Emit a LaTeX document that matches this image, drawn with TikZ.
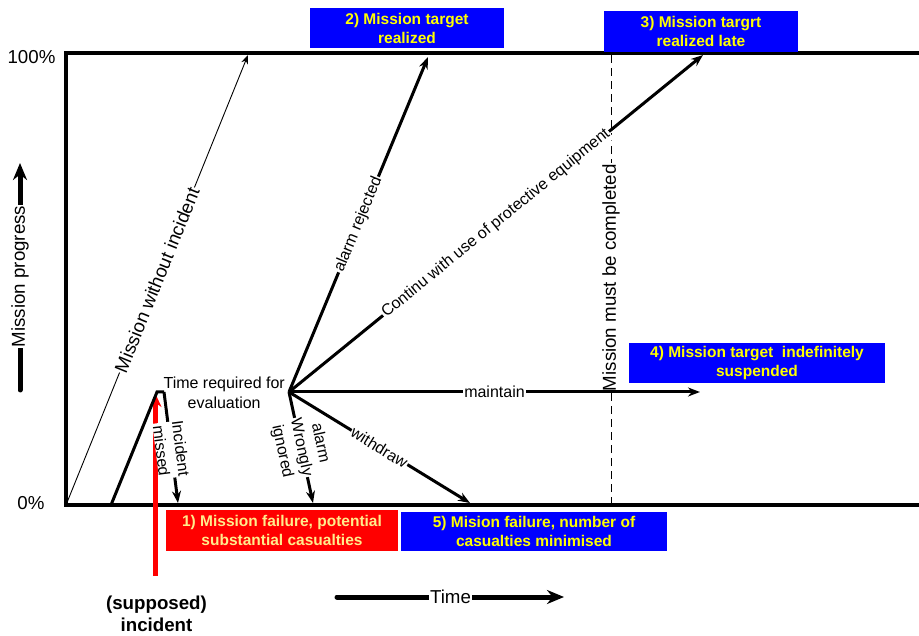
\documentclass[tikz,border=0pt]{standalone}
\usepackage{fontspec}
\setmainfont{Liberation Sans}
\usepackage{tikz}
\usetikzlibrary{arrows.meta, positioning, calc}

\definecolor{boxblue}{RGB}{0,0,255}
\definecolor{boxred}{RGB}{255,0,0}
\definecolor{txtyellow}{RGB}{255,255,0}
\definecolor{paleyellow}{RGB}{255,236,140}

\begin{document}
\begin{tikzpicture}[x=1pt, y=-1pt, >={Stealth[length=12pt,width=9pt]}]
            \tikzset{
                route/.style={line width=3pt, ->},
                thinroute/.style={line width=0.9pt, -{Stealth[length=9pt,width=7pt]}},
                bigarrow/.style={line width=5pt, line cap=round, -{Stealth[length=17pt,width=14pt]}},
                lbl/.style={font=\fontsize{16}{19.5}\selectfont, fill=white, inner sep=1pt, align=center},
                axislbl/.style={font=\fontsize{18.7}{22}\selectfont, fill=white, inner sep=1pt, align=center},
                outcome/.style={font=\bfseries\fontsize{15.5}{19}\selectfont, text=txtyellow, fill=boxblue, align=center, inner sep=0pt}
            }
            \useasboundingbox (0,0) rectangle (919,636);

            % frame of the chart
            \coordinate (o) at (66,505);
            \coordinate (top) at (66,53);
            \coordinate (topend) at (919,53);
            \coordinate (botend) at (919,505);
            \draw[line width=3.5pt] (topend) -- (top) -- (o) -- (botend);
            \node[font=\fontsize{18.7}{22}\selectfont] (full) at (31.5,57) {100\%};
            \node[font=\fontsize{18.7}{22}\selectfont] (zero) at (31,503) {0\%};

            % axes
            \coordinate (ybase) at (20,390);
            \coordinate (ytip) at (20,163);
            \draw[bigarrow] (ybase) -- node[axislbl, rotate=90] {Mission progress} (ytip);
            \coordinate (xbase) at (337,597);
            \coordinate (xtip) at (564,597);
            \draw[bigarrow] (xbase) -- node[axislbl] {Time} (xtip);

            % deadline
            \coordinate (dltop) at (611,55);
            \coordinate (dlbot) at (611,505);
            \draw[line width=1pt, dash pattern=on 8pt off 5pt] (dlbot) -- node[axislbl, rotate=90, pos=0.505] {Mission must be completed} (dltop);

            % no incident
            \coordinate (ok) at (248,55);
            \draw[thinroute] (o) -- node[axislbl, sloped] {Mission without incident} (ok);

            % incident
            \coordinate (incbase) at (155.5,576);
            \coordinate (inctip) at (155.5,394);
            \draw[red, line width=5pt, -{Stealth[length=13pt,width=12pt]}] (incbase) -- (inctip);
            \coordinate (start) at (111,505);
            \coordinate (peak) at (157,392);
            \coordinate (hold) at (164,392);
            \coordinate (miss) at (178,503);
            \draw[line width=3pt] (start) -- (peak) -- (hold);
            \draw[route] (hold) -- node[lbl, sloped, inner sep=0pt, pos=0.52] {Incident\\missed} (miss);
            \node[font=\bfseries\fontsize{18.7}{21.5}\selectfont, align=center] (incident) at (156.5,614) {(supposed)\\incident};

            % evaluation and the choices
            \node[lbl, fill=none, anchor=east] (evaltxt) at (286,393) {Time required for\\evaluation};
            \coordinate (D) at (289,392);
            \coordinate (rej) at (428,57);
            \coordinate (late) at (703,55);
            \coordinate (keep) at (700,392);
            \coordinate (ign) at (313,503);
            \coordinate (wd) at (470,503);
            \draw[route] (D) -- node[lbl, sloped] {alarm rejected} (rej);
            \draw[route] (D) -- node[lbl, sloped] {Continu with use of protective equipment} (late);
            \draw[route] (D) -- node[lbl] {maintain} (keep);
            \draw[route] (D) -- node[lbl, sloped] {alarm\\Wrongly\\ignored} (ign);
            \draw[route] (D) -- node[lbl, sloped] {withdraw} (wd);

            % outcomes
            \node[outcome, minimum width=194pt, minimum height=40pt] (won) at (407,28) {2) Mission target\\realized};
            \node[outcome, minimum width=194pt, minimum height=41pt] (wonlate) at (701,31.5) {3) Mission targrt\\realized late};
            \node[outcome, minimum width=256pt, minimum height=40pt] (stuck) at (757,363) {4) Mission target~ indefinitely\\suspended};
            \node[outcome, minimum width=266pt, minimum height=39pt] (saved) at (534,531.5) {5) Mision failure, number of\\casualties minimised};
            \node[outcome, fill=boxred, text=paleyellow, minimum width=232pt, minimum height=41pt] (lost) at (282,530.5) {1) Mission failure, potential\\substantial casualties};
        \end{tikzpicture}
\end{document}
